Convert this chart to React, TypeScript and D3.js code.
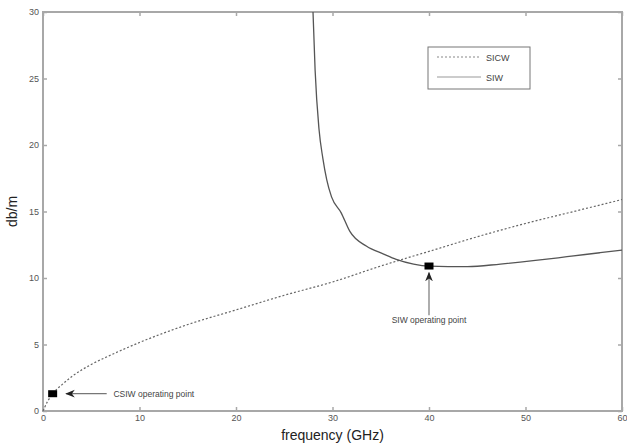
import * as d3 from "d3";
import { useEffect, useRef } from "react";

// SICW attenuation (dotted)
const sicwFreq = [0, 0.5, 1, 2, 3, 5, 7, 10, 15, 20, 25, 30, 35, 37, 40, 45, 50, 55, 60];
const sicwLoss = [0, 0.75, 1.3, 2.0, 2.6, 3.5, 4.2, 5.15, 6.5, 7.6, 8.7, 9.7, 10.9, 11.35, 12.0, 13.1, 14.1, 15.0, 15.9];

// SIW attenuation (solid)
const siwFreq = [27.98, 28.2, 28.6, 29.0, 29.4, 29.9, 30.9, 31.8, 33.5, 35.3, 36.6, 38.4, 40, 44, 47.4, 50.8, 54.3, 57.7, 60];
const siwLoss = [30, 25.6, 21.2, 19.0, 17.4, 16.1, 14.9, 13.5, 12.4, 11.8, 11.4, 11.05, 10.9, 10.85, 11.05, 11.3, 11.6, 11.9, 12.1];

const xTicks = [0, 10, 20, 30, 40, 50, 60];
const yTicks = [0, 5, 10, 15, 20, 25, 30];

const legendNames = ["SICW", "SIW"];

// operating points: [freq, dB/m]
const csiwPoint = [1, 1.3];
const siwPoint = [40, 10.9];

const W = 627;
const H = 445;

const App = () => {
  const ref = useRef<SVGSVGElement>(null);

  useEffect(() => {
    const svg = d3.select(ref.current);
    svg.selectAll("*").remove();

    const margin = { top: 12, left: 43, right: 5, bottom: 34 };
    const x = d3.scaleLinear().domain([0, 60]).range([margin.left, W - margin.right]);
    const y = d3.scaleLinear().domain([0, 30]).range([H - margin.bottom, margin.top]);
    const axisColor = "#a8a8a8";
    const font = "'Liberation Sans', Arial, sans-serif";

    // box
    svg.append("rect")
      .attr("x", x(0)).attr("y", y(30))
      .attr("width", x(60) - x(0)).attr("height", y(0) - y(30))
      .attr("fill", "none").attr("stroke", axisColor).attr("stroke-width", 2);

    const bottom = svg.append("g").attr("transform", `translate(0,${y(0)})`)
      .call(d3.axisBottom(x).tickValues(xTicks).tickSizeInner(-4).tickSizeOuter(0).tickPadding(4));
    const top = svg.append("g").attr("transform", `translate(0,${y(30)})`)
      .call(d3.axisTop(x).tickValues(xTicks).tickSizeInner(-4).tickSizeOuter(0).tickFormat(() => ""));
    const left = svg.append("g").attr("transform", `translate(${x(0)},0)`)
      .call(d3.axisLeft(y).tickValues(yTicks).tickSizeInner(-4).tickSizeOuter(0).tickPadding(4));
    const right = svg.append("g").attr("transform", `translate(${x(60)},0)`)
      .call(d3.axisRight(y).tickValues(yTicks).tickSizeInner(-4).tickSizeOuter(0).tickFormat(() => ""));

    [bottom, top, left, right].forEach(g => {
      g.select(".domain").remove();
      g.selectAll("line").attr("stroke", axisColor).attr("stroke-width", 1.5);
      g.selectAll("text").attr("fill", "#555").style("font-family", font).style("font-size", "9px");
    });

    // curves
    const sicw = sicwFreq.map((f, i) => [x(f), y(sicwLoss[i])]);
    const siw = siwFreq.map((f, i) => [x(f), y(siwLoss[i])]);
    svg.append("path").attr("d", d3.line().curve(d3.curveMonotoneX)(sicw as any))
      .attr("fill", "none").attr("stroke", "#666").attr("stroke-width", 1.2)
      .attr("stroke-dasharray", "2,2");
    svg.append("path").attr("d", d3.line().curve(d3.curveMonotoneX)(siw as any))
      .attr("fill", "none").attr("stroke", "#555").attr("stroke-width", 1.3);

    // arrows
    const defs = svg.append("defs");
    defs.append("marker").attr("id", "ah")
      .attr("viewBox", "0 0 10 10").attr("refX", 9).attr("refY", 5)
      .attr("markerWidth", 8).attr("markerHeight", 8).attr("orient", "auto")
      .append("path").attr("d", "M0,1 L10,5 L0,9 L3,5 Z").attr("fill", "#222");

    svg.append("line")
      .attr("x1", x(6.6)).attr("y1", y(csiwPoint[1])).attr("x2", x(2.4)).attr("y2", y(csiwPoint[1]))
      .attr("stroke", "#777").attr("stroke-width", 1.2).attr("marker-end", "url(#ah)");
    svg.append("text").attr("x", x(7.3)).attr("y", y(csiwPoint[1]) + 3)
      .text("CSIW operating point").attr("fill", "#444")
      .style("font-family", font).style("font-size", "8.5px");

    svg.append("line")
      .attr("x1", x(siwPoint[0])).attr("y1", y(7.2)).attr("x2", x(siwPoint[0])).attr("y2", y(10.4))
      .attr("stroke", "#777").attr("stroke-width", 1.2).attr("marker-end", "url(#ah)");
    svg.append("text").attr("x", x(siwPoint[0])).attr("y", y(6.6))
      .attr("text-anchor", "middle")
      .text("SIW operating point").attr("fill", "#444")
      .style("font-family", font).style("font-size", "8.5px");

    // markers
    [csiwPoint, siwPoint].forEach(p => {
      svg.append("rect")
        .attr("x", x(p[0]) - 4.5).attr("y", y(p[1]) - 3.5)
        .attr("width", 9).attr("height", 7).attr("fill", "#000");
    });

    // legend
    const lg = svg.append("g").attr("transform", "translate(428,47)");
    lg.append("rect").attr("width", 102).attr("height", 42)
      .attr("fill", "#fff").attr("stroke", "#777").attr("stroke-width", 1);
    legendNames.forEach((name, i) => {
      const yy = 10 + i * 20;
      lg.append("line").attr("x1", 9).attr("x2", 53).attr("y1", yy).attr("y2", yy)
        .attr("stroke", i === 0 ? "#888" : "#999").attr("stroke-width", 1.2)
        .attr("stroke-dasharray", i === 0 ? "2,2" : null);
      lg.append("text").attr("x", 58).attr("y", yy + 3.5).text(name)
        .attr("fill", "#444").style("font-family", font).style("font-size", "9px");
    });

    // axis titles
    svg.append("text").attr("x", (x(0) + x(60)) / 2).attr("y", 440)
      .attr("text-anchor", "middle").text("frequency (GHz)")
      .attr("fill", "#222").style("font-family", font).style("font-size", "14px");
    svg.append("text")
      .attr("transform", `translate(17,${(y(0) + y(30)) / 2}) rotate(-90)`)
      .attr("text-anchor", "middle").text("db/m")
      .attr("fill", "#222").style("font-family", font).style("font-size", "14px");
  }, []);

  return (
    <svg ref={ref} width={W} height={H}
      style={{ position: "absolute", left: 0, top: 0, background: "#fff" }} />
  );
};

export default App;
